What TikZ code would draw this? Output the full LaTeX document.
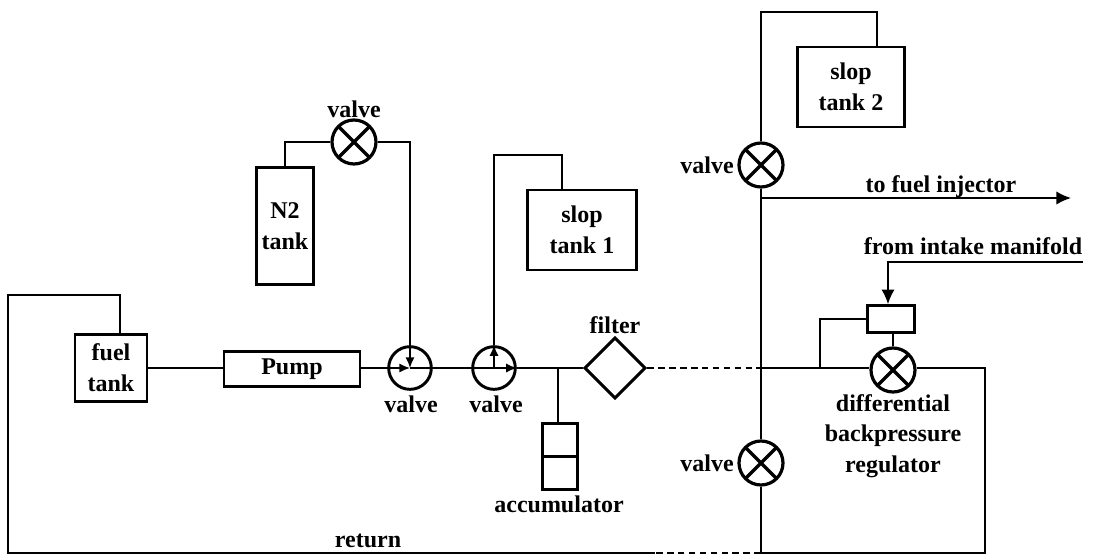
\documentclass[tikz,border=0pt]{standalone}
\usepackage{fontspec}
\setmainfont{Liberation Serif}
\usetikzlibrary{arrows.meta,shapes.geometric}
\tikzset{
 pipe/.style={line width=1.3pt},
 dashpipe/.style={line width=1.6pt,dash pattern=on 5pt off 3.2pt},
 bigtip/.style={-{Latex[length=11pt,width=10pt]}},
 smalltip/.style={-{Latex[length=8pt,width=7pt]}},
 tankbox/.style={draw,line width=2.2pt,inner sep=0pt,align=center,font=\lab},
 xvalve/.style={draw,circle,line width=2.4pt,minimum size=33pt,inner sep=0pt,
   path picture={\draw[line width=2.4pt] (path picture bounding box.north west) -- (path picture bounding box.south east)
     (path picture bounding box.north east) -- (path picture bounding box.south west);}},
 ovalve/.style={draw,circle,line width=2.2pt,minimum size=32pt,inner sep=0pt},
 lab/.style={font=\lab,align=center,inner sep=0pt}
}
\newcommand{\lab}{\fontsize{18}{23}\selectfont\bfseries}
\begin{document}
\begin{tikzpicture}[>=Latex,x=0.75pt,y=-0.75pt]
\useasboundingbox (0,0) rectangle (1093,556);
\node[tankbox,minimum width=54pt,minimum height=50pt] (ftank) at (111,368) {fuel\\tank};
\node[tankbox,minimum width=102pt,minimum height=26pt] (pump) at (292,369) {\raisebox{-2pt}{Pump}};
\node[tankbox,minimum width=43pt,minimum height=88pt] (n2) at (285,226) {N2\\tank};
\node[tankbox,minimum width=82pt,minimum height=60pt] (slopa) at (582,230) {slop\\tank 1};
\node[tankbox,minimum width=80pt,minimum height=60pt] (slopb) at (851,87) {slop\\tank 2};
\node[draw,line width=2.2pt,minimum width=26pt,minimum height=25pt,inner sep=0pt] (accup) at (560,440) {};
\node[draw,line width=2.2pt,minimum width=26pt,minimum height=25pt,inner sep=0pt] (acclo) at (560,473) {};
\node[draw,line width=2.2pt,minimum width=35pt,minimum height=20pt,inner sep=0pt] (act) at (891,319) {};
\node[xvalve] (vn) at (354,142) {};
\node[xvalve] (vt) at (761,165) {};
\node[xvalve] (vb) at (761,463) {};
\node[xvalve] (vr) at (893,370) {};
\node[ovalve] (va) at (410,368) {};
\node[ovalve] (vc) at (494,368) {};
\node[diamond,draw,line width=2.2pt,minimum width=46pt,minimum height=46pt,inner sep=0pt] (filt) at (615,368) {};
\coordinate (jacc) at (558,368);
\coordinate (jmid) at (761,368);
\coordinate (jsen) at (820,368);
\coordinate (jinj) at (761,198);
\coordinate (jret) at (761,553);
\coordinate (cret) at (985,553);
\coordinate (cdash) at (655,553);
\coordinate (cfrom) at (1083,262);
\coordinate (cinj) at (1071,198);
\draw[pipe] (ftank.east |- va) -- (pump.west |- va);
\draw[pipe,smalltip] (pump.east |- va) -- (va.center);
\draw[pipe] (va.center) -- (vc.center);
\draw[pipe,smalltip] (vc.center) -- (vc.east);
\draw[pipe] (vc.east) -- (jacc) -- (filt.west);
\draw[pipe] (jacc) -- (accup.north -| jacc);
\draw[dashpipe] (filt.east) -- (jmid);
\draw[pipe] (jmid) -- (vr.west |- jmid);
\draw[pipe] (jsen) |- (act.west);
\draw[pipe] (act.south -| vr) -- (vr.north);
\draw[pipe] (vr.east |- jmid) -| (cret) -- (jret);
\draw[dashpipe] (jret) -- (cdash);
\draw[pipe] (cdash) -- (8,553) |- (120,295) -- (ftank.north -| 120,0);
\draw[pipe] (vn.west) -| (n2.north);
\draw[pipe,smalltip] (vn.east) -| (va.center);
\draw[pipe,smalltip] (vc.center) -- (vc.north);
\draw[pipe] (vc.north) |- (562,155) -- (slopa.north -| 562,0);
\draw[pipe] (vt.north) |- (877,12) -- (slopb.north -| 877,0);
\draw[pipe] (vt.south) -- (vb.north);
\draw[pipe] (vb.south) -- (jret);
\draw[pipe,bigtip] (jinj) -- (cinj);
\draw[pipe,bigtip] (cfrom) -| (act.north -| 888,0);
\node[lab] at (354,109) {valve};
\node[lab] at (411,404) {valve};
\node[lab] at (496,404) {valve};
\node[lab] at (615,325) {filter};
\node[lab] at (559,504) {accumulator};
\node[lab] at (368,541) {return};
\node[lab] at (707,165) {valve};
\node[lab] at (707,463) {valve};
\node[lab] at (941,187) {to fuel injector};
\node[lab] at (973,246) {from intake manifold};
\node[lab] at (893,436) {differential\\backpressure\\regulator};
\end{tikzpicture}
\end{document}
